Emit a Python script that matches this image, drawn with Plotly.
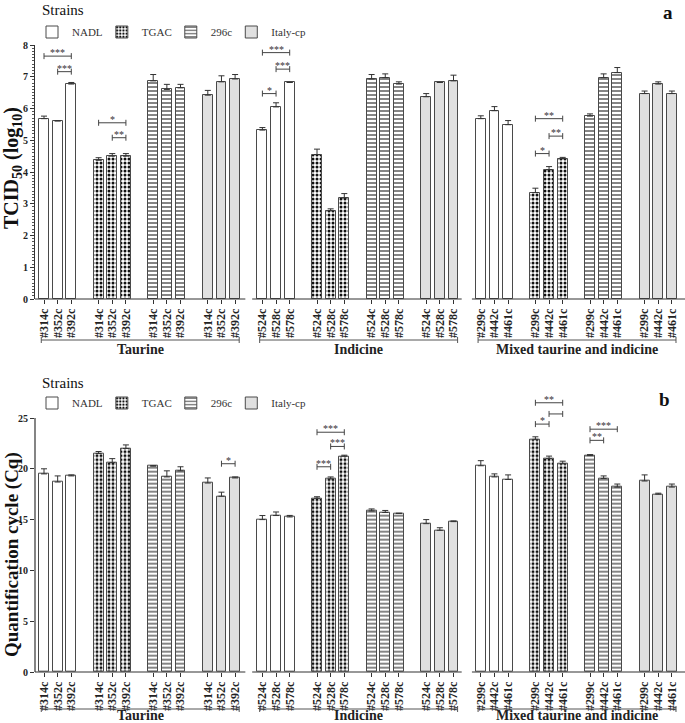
import plotly.graph_objects as go

# ---------------- data ----------------
regions = ["Taurine", "Indicine", "Mixed taurine and indicine"]
isolates = [["#314c", "#352c", "#392c"],
            ["#524c", "#528c", "#578c"],
            ["#299c", "#442c", "#461c"]]
strains = ["NADL", "TGAC", "296c", "Italy-cp"]

# Panel a: TCID50 (log10); order: Taurine x3, Indicine x3, Mixed x3
tcid_nadl = [5.68, 5.61, 6.77, 5.32, 6.05, 6.82, 5.68, 5.93, 5.49]
tcid_tgac = [4.37, 4.50, 4.50, 4.55, 2.78, 3.18, 3.35, 4.07, 4.42]
tcid_296c = [6.87, 6.60, 6.65, 6.93, 6.97, 6.77, 5.76, 6.97, 7.13]
tcid_italy = [6.42, 6.84, 6.93, 6.37, 6.82, 6.87, 6.47, 6.77, 6.47]
tcid_nadl_err = [0.08, 0.0, 0.05, 0.08, 0.13, 0.0, 0.09, 0.13, 0.13]
tcid_tgac_err = [0.08, 0.08, 0.08, 0.17, 0.06, 0.14, 0.14, 0.10, 0.04]
tcid_296c_err = [0.20, 0.16, 0.11, 0.14, 0.12, 0.07, 0.07, 0.12, 0.16]
tcid_italy_err = [0.15, 0.19, 0.14, 0.10, 0.0, 0.18, 0.08, 0.07, 0.08]

# Panel b: quantification cycle (Cq)
cq_nadl = [19.5, 18.7, 19.3, 15.0, 15.4, 15.26, 20.3, 19.2, 18.95]
cq_tgac = [21.5, 20.6, 22.0, 17.1, 19.0, 21.24, 22.9, 21.0, 20.5]
cq_296c = [20.26, 19.2, 19.8, 15.85, 15.7, 15.6, 21.3, 19.05, 18.2]
cq_italy = [18.6, 17.3, 19.1, 14.6, 13.95, 14.8, 18.8, 17.5, 18.2]
cq_nadl_err = [0.5, 0.6, 0.1, 0.4, 0.35, 0.15, 0.5, 0.3, 0.45]
cq_tgac_err = [0.2, 0.4, 0.35, 0.15, 0.2, 0.1, 0.25, 0.25, 0.25]
cq_296c_err = [0.05, 0.6, 0.4, 0.2, 0.2, 0.03, 0.1, 0.25, 0.3]
cq_italy_err = [0.5, 0.4, 0.1, 0.4, 0.25, 0.07, 0.6, 0.1, 0.3]

# significance brackets: (region, strain, isolate_a, isolate_b, level, label)
sig_a = [(0, 0, 0, 2, 7.65, "***"), (0, 0, 1, 2, 7.16, "***"),
         (0, 1, 0, 2, 5.55, "*"), (0, 1, 1, 2, 5.08, "**"),
         (1, 0, 0, 2, 7.76, "***"), (1, 0, 1, 2, 7.24, "***"), (1, 0, 0, 1, 6.47, "*"),
         (2, 1, 0, 2, 5.68, "**"), (2, 1, 1, 2, 5.13, "**"), (2, 1, 0, 1, 4.58, "*")]
sig_b = [(0, 3, 1, 2, 20.5, "*"),
         (1, 1, 0, 2, 23.6, "***"), (1, 1, 1, 2, 22.2, "***"), (1, 1, 0, 1, 20.2, "***"),
         (2, 1, 0, 2, 26.5, "**"), (2, 1, 1, 2, 25.4, ""), (2, 1, 0, 1, 24.4, "*"),
         (2, 2, 0, 2, 23.9, "***"), (2, 2, 0, 1, 22.8, "**")]

# ---------------- layout helpers ----------------
def slot(r, g, i):
    return 16 * r + 4 * g + i

SERIF = "Liberation Serif"
EDGE = "#4a4a4a"
W, H = 685, 723
ML, MR, MT, MB = 35, 0, 45, 51
PH = H - MT - MB

def py(pix):  # pixel row -> paper y
    return (H - MB - pix) / PH

def px(pix):
    return (pix - ML) / (W - ML - MR)

markers = [
    dict(color="white", line=dict(color=EDGE, width=1)),
    dict(color="white", line=dict(color=EDGE, width=1),
         pattern=dict(shape=".", fgcolor="#111111", bgcolor="white", size=4, solidity=0.45, fillmode="replace")),
    dict(color="white", line=dict(color=EDGE, width=1),
         pattern=dict(shape="-", fgcolor="#333333", bgcolor="white", size=4, solidity=0.3, fillmode="replace")),
    dict(color="#e0e0e0", line=dict(color=EDGE, width=1)),
]

xs_by_strain = [[slot(r, g, i) for r in range(3) for i in range(3)] for g in range(4)]
tickvals = [slot(r, g, i) for r in range(3) for g in range(4) for i in range(3)]
ticktext = [isolates[r][i] for r in range(3) for g in range(4) for i in range(3)]

fig = go.Figure()
panels = [
    ("x", "y", "legend", [tcid_nadl, tcid_tgac, tcid_296c, tcid_italy],
     [tcid_nadl_err, tcid_tgac_err, tcid_296c_err, tcid_italy_err]),
    ("x2", "y2", "legend2", [cq_nadl, cq_tgac, cq_296c, cq_italy],
     [cq_nadl_err, cq_tgac_err, cq_296c_err, cq_italy_err]),
]
for xa, ya, lg, vals, errs in panels:
    for g in range(4):
        fig.add_trace(go.Bar(
            x=xs_by_strain[g], y=vals[g], name=strains[g], xaxis=xa, yaxis=ya,
            legend=lg, width=0.72, marker=markers[g],
            error_y=dict(type="data", array=errs[g], arrayminus=[0] * 9, symmetric=False,
                         color="#333333", thickness=1, width=3),
        ))

shapes = []
annotations = []

# broken x-axis segments and group brackets
seg_bounds = [(-0.66, 14.75), (15.25, 30.6), (31.35, 46.96)]
for xa, ya, brk, lab in [("x", "y", 340, 350), ("x2", "y2", 709, 715)]:
    for r, (a, b) in enumerate(seg_bounds):
        shapes.append(dict(type="line", xref=xa, yref=ya + " domain", x0=a, x1=b, y0=0, y1=0,
                           line=dict(color="#333333", width=1.2)))
        lo, hi = slot(r, 0, 0) - 0.2, slot(r, 3, 2) + 0.3
        shapes.append(dict(type="line", xref=xa, yref="paper", x0=lo, x1=hi, y0=py(brk), y1=py(brk),
                           line=dict(color="#555555", width=1)))
        for xe in (lo, hi):
            shapes.append(dict(type="line", xref=xa, yref="paper", x0=xe, x1=xe,
                               ysizemode="pixel", yanchor=py(brk), y0=-3, y1=3,
                               line=dict(color="#555555", width=1)))
        annotations.append(dict(xref=xa, yref="paper", x=(lo + hi) / 2, y=py(lab), text=regions[r],
                                showarrow=False, xanchor="center", yanchor="middle",
                                font=dict(family=SERIF, size=14, color="#222222", weight="bold")))

# bottom y-axis line only up to 25
shapes.append(dict(type="line", xref="x2 domain", yref="y2", x0=0, x1=0, y0=0, y1=25,
                   line=dict(color="#333333", width=1.2)))

# significance brackets
for xa, ya, sigs in [("x", "y", sig_a), ("x2", "y2", sig_b)]:
    for r, g, i1, i2, lvl, lab in sigs:
        x1, x2 = slot(r, g, i1), slot(r, g, i2)
        shapes.append(dict(type="line", xref=xa, yref=ya, x0=x1, x1=x2, y0=lvl, y1=lvl,
                           line=dict(color="#444444", width=1)))
        for xe in (x1, x2):
            shapes.append(dict(type="line", xref=xa, yref=ya, x0=xe, x1=xe,
                               ysizemode="pixel", yanchor=lvl, y0=-3, y1=3,
                               line=dict(color="#444444", width=1)))
        if lab:
            annotations.append(dict(xref=xa, yref=ya, x=(x1 + x2) / 2, y=lvl, text=lab,
                                    showarrow=False, xanchor="center", yanchor="bottom", yshift=-4,
                                    font=dict(family=SERIF, size=10, color="#333333")))

for txt, xx, yy, sz, bold, anchor, ang in [
        ("a", 668, 12, 19, True, "center", 0),
        ("b", 664, 399, 19, True, "center", 0),
        ("Strains", 40, 10, 15, False, "left", 0),
        ("Strains", 40, 383, 15, False, "left", 0),
        ("TCID<sub>50</sub> (log<sub>10</sub>)", 12, 168, 20, True, "center", -90),
        ("Quantification cycle (Cq)", 12, 555, 19, True, "center", -90)]:
    annotations.append(dict(xref="paper", yref="paper", x=px(xx), y=py(yy), text=txt,
                            showarrow=False, xanchor=anchor, yanchor="middle", textangle=ang,
                            font=dict(family=SERIF, size=sz, color="#111111",
                                      weight="bold" if bold else "normal")))

xcommon = dict(range=[-0.66, 46.96], tickvals=tickvals, ticktext=ticktext, tickangle=-90,
               ticks="outside", ticklen=4, tickcolor="#333333", showline=False, showgrid=False,
               zeroline=False, domain=[0, 1],
               tickfont=dict(family=SERIF, size=12, color="#222222", weight="bold"))
legcommon = dict(orientation="h", xanchor="left", yanchor="middle", bgcolor="rgba(0,0,0,0)",
                 itemwidth=30, indentation=-6, tracegroupgap=0,
                 font=dict(family=SERIF, size=11, color="#333333"))

fig.update_layout(
    width=W, height=H, margin=dict(l=ML, r=MR, t=MT, b=MB, autoexpand=False),
    paper_bgcolor="white", plot_bgcolor="white", barmode="overlay", bargap=0,
    xaxis=dict(anchor="y", **xcommon),
    xaxis2=dict(anchor="y2", **xcommon),
    yaxis=dict(domain=[py(299), 1.0], range=[0, 8], tickvals=list(range(9)), ticks="outside",
               ticklen=4, tickcolor="#333333", showline=True, linecolor="#333333", linewidth=1.2,
               showgrid=False, zeroline=False,
               minor=dict(ticks="outside", ticklen=2, dtick=0.1, tickcolor="#555555"),
               tickfont=dict(family=SERIF, size=10, color="#222222", weight="bold")),
    yaxis2=dict(domain=[0, py(672 - 27 * 10.16)], range=[0, 27], tickvals=[0, 5, 10, 15, 20, 25],
                ticks="outside", ticklen=4, tickcolor="#333333", showline=False,
                showgrid=False, zeroline=False,
                tickfont=dict(family=SERIF, size=10, color="#222222", weight="bold")),
    legend=dict(x=px(38), y=py(32), **legcommon),
    legend2=dict(x=px(38), y=py(403), **legcommon),
    shapes=shapes, annotations=annotations, showlegend=True,
)

fig.write_html("out.html", config={"displayModeBar": False},
               post_script="document.body.style.margin='0';document.body.style.padding='0';")
